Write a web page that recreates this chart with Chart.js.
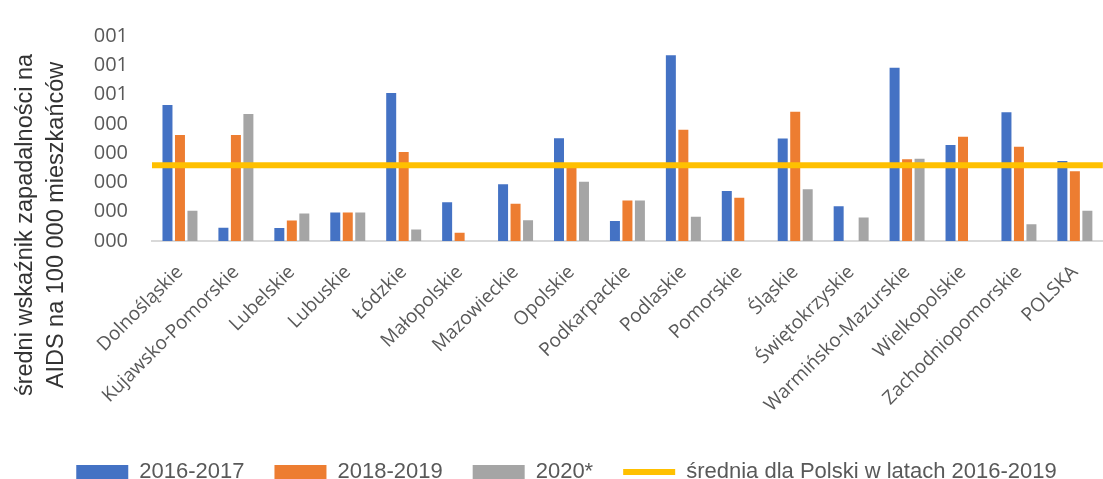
<!DOCTYPE html>
<html lang="pl">
<head>
<meta charset="utf-8">
<script src="https://cdn.jsdelivr.net/npm/chart.js@4.4.0/dist/chart.umd.min.js"></script>
<style>
    html, body { margin: 0; padding: 0; background: #fff; }
    #wrap { width: 1103px; height: 479px; position: relative; }
</style>
</head>
<body>
<div id="wrap"><canvas id="aidsChart"></canvas></div>
<script>
const regions = ['Dolnośląskie', 'Kujawsko-Pomorskie', 'Lubelskie', 'Lubuskie', 'Łódzkie', 'Małopolskie',
    'Mazowieckie', 'Opolskie', 'Podkarpackie', 'Podlaskie', 'Pomorskie', 'Śląskie', 'Świętokrzyskie',
    'Warmińsko-Mazurskie', 'Wielkopolskie', 'Zachodniopomorskie', 'POLSKA'];

// values in axis units (one tick step per unit)
const rate2016_2017 = [4.64, 0.45, 0.44, 0.97, 5.05, 1.32, 1.94, 3.51, 0.68, 6.34, 1.71, 3.50, 1.19, 5.92, 3.28, 4.40, 2.73];
const rate2018_2019 = [3.62, 3.62, 0.70, 0.97, 3.04, 0.28, 1.27, 2.60, 1.38, 3.80, 1.48, 4.41, null, 2.79, 3.56, 3.22, 2.38];
const rate2020 = [1.03, 4.34, 0.94, 0.97, 0.39, null, 0.71, 2.02, 1.38, 0.83, null, 1.77, 0.80, 2.81, null, 0.57, 1.03];
const avgPoland = 2.59;

const seriesNames = ['2016-2017', '2018-2019', '2020*', 'średnia dla Polski w latach 2016-2019'];
const yTickLabels = ['000', '000', '000', '000', '000', '001', '001', '001'];
const yTitleLines = ['średni wskaźnik zapadalności na', 'AIDS na 100 000 mieszkańców'];

const ctx = document.getElementById('aidsChart').getContext('2d');

// bars sit on a numeric x axis (region index), so the average line can run edge to edge on the same axis
const toPoints = arr => arr.map((v, i) => ({ x: i, y: v }));
const xMin = -0.5;
const xMax = regions.length - 0.5;

// rotated two-line y axis title
const yTitlePlugin = {
    id: 'yTitle',
    afterDraw(chart) {
        const c = chart.ctx;
        c.save();
        c.font = '23.5px "Liberation Sans"';
        c.fillStyle = '#333333';
        c.textAlign = 'center';
        c.textBaseline = 'alphabetic';
        c.translate(0, 225);
        c.rotate(-Math.PI / 2);
        c.fillText(yTitleLines[0], 0, 32);
        c.fillText(yTitleLines[1], 0, 63);
        c.restore();
    }
};

const barOpts = {
    barPercentage: 0.8,
    categoryPercentage: 0.67,
    borderWidth: 0
};

// legend order: bars first, the average line last
const legendRank = i => (i === 0 ? 99 : i);

function drawChart() {
    new Chart(ctx, {
        type: 'bar',
        data: {
            datasets: [
                {
                    // first dataset is painted last, so the line sits over the bars
                    type: 'line',
                    label: seriesNames[3],
                    data: [{ x: xMin, y: avgPoland }, { x: xMax, y: avgPoland }],
                    borderColor: '#FFC000',
                    backgroundColor: '#FFC000',
                    borderWidth: 6,
                    borderCapStyle: 'round',
                    pointRadius: 0
                },
                { label: seriesNames[0], data: toPoints(rate2016_2017), backgroundColor: '#4472C4', ...barOpts },
                { label: seriesNames[1], data: toPoints(rate2018_2019), backgroundColor: '#ED7D31', ...barOpts },
                { label: seriesNames[2], data: toPoints(rate2020), backgroundColor: '#A5A5A5', ...barOpts }
            ]
        },
        options: {
            responsive: true,
            maintainAspectRatio: false,
            animation: false,
            layout: { padding: { left: 30, right: 0, top: 15, bottom: -14 } },
            plugins: {
                tooltip: { enabled: false },
                legend: {
                    position: 'bottom',
                    labels: {
                        usePointStyle: true,
                        pointStyleWidth: 52,
                        boxHeight: 14,
                        padding: 30,
                        color: '#595959',
                        font: { family: '"Liberation Sans", sans-serif', size: 22 },
                        sort: (a, b) => legendRank(a.datasetIndex) - legendRank(b.datasetIndex),
                        generateLabels(chart) {
                            const items = Chart.defaults.plugins.legend.labels.generateLabels(chart);
                            items.forEach(it => {
                                it.pointStyle = it.datasetIndex === 0 ? 'line' : 'rect';
                                if (it.datasetIndex !== 0) it.lineWidth = 0;
                            });
                            return items;
                        }
                    }
                }
            },
            scales: {
                x: {
                    type: 'linear',
                    offset: false,
                    min: xMin,
                    max: xMax,
                    grid: { display: false },
                    border: { display: true, color: '#D9D9D9', width: 2 },
                    afterBuildTicks(scale) {
                        scale.ticks = regions.map((r, i) => ({ value: i }));
                    },
                    ticks: {
                        minRotation: 45,
                        maxRotation: 45,
                        autoSkip: false,
                        padding: 12,
                        color: '#595959',
                        font: { family: '"Open Sans", sans-serif', size: 19 },
                        callback: value => regions[value]
                    },
                    afterFit(scale) { scale.height = 190; }
                },
                y: {
                    min: 0,
                    max: 7,
                    grid: { display: false, drawTicks: false },
                    border: { display: false },
                    ticks: {
                        stepSize: 1,
                        padding: 24,
                        color: '#595959',
                        font: { family: '"Open Sans", sans-serif', size: 20 },
                        callback: (value, index) => yTickLabels[index]
                    },
                    afterFit(scale) { scale.width = 122; }
                }
            }
        },
        plugins: [yTitlePlugin]
    });
}

Promise.all([
    document.fonts.load('19px "Open Sans"'),
    document.fonts.load('22px "Liberation Sans"')
]).then(drawChart, drawChart);
</script>
</body>
</html>
